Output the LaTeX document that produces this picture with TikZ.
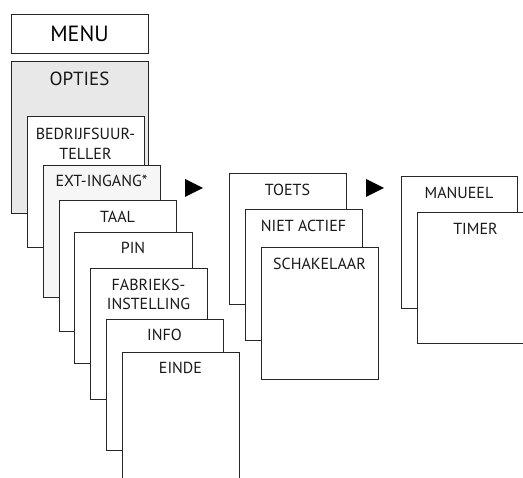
\documentclass[tikz,border=0pt]{standalone}
\usepackage{fontspec}
\setmainfont{PT Sans}
\begin{document}
\begin{tikzpicture}[x=1pt,y=-1pt,
  box/.style={draw=black!85, line width=0.9pt, fill=white, rectangle, anchor=north west,
    inner sep=0pt, outer sep=0pt, minimum width=117pt, minimum height=131pt},
  lbl/.style={font=\fontsize{16}{19.2}\selectfont, text=black!90, anchor=base, inner sep=0pt, align=center},
  tri/.style={fill=black}]
\useasboundingbox (0,0) rectangle (523,478);
\clip (0,0) rectangle (523,478);
% MENU
\node[box, minimum width=137pt, minimum height=39pt, font=\fontsize{22}{26}\selectfont] (menu) at (11,14) {MENU};
% OPTIES
\node[box, fill=gray!18, minimum width=137pt, minimum height=152pt] (opties) at (11,61) {};
\node[lbl, font=\fontsize{19}{22}\selectfont] (optiesT) at ([yshift=-25pt]opties.north) {OPTIES};
% stack of options
\node[box] (bedrijf) at (27,116) {};
\node[lbl] (bedrijfT) at ([yshift=-43.2pt]bedrijf.north) {BEDRIJFSUUR-\\TELLER};
\node[box, fill=gray!7, minimum height=132pt] (ext) at (43,165) {};
\node[lbl] (extT) at ([yshift=-22pt]ext.north) {EXT-INGANG*};
\node[box] (taal) at (59,200) {};
\node[lbl] (taalT) at ([yshift=-22.7pt]taal.north) {TAAL};
\node[box, minimum width=118pt] (pin) at (74,232) {};
\node[lbl] (pinT) at ([yshift=-22pt]pin.north) {PIN};
\node[box] (fabriek) at (90,268) {};
\node[lbl] (fabriekT) at ([yshift=-42pt]fabriek.north) {FABRIEKS-\\INSTELLING};
\node[box] (info) at (106,319) {};
\node[lbl] (infoT) at ([yshift=-22pt]info.north) {INFO};
\node[box] (einde) at (122,352) {};
\node[lbl] (eindeT) at ([yshift=-22pt]einde.north) {EINDE};
% arrow 1
\fill[tri] (185,179) -- (203,188) -- (185,197) -- cycle;
% middle stack
\node[box] (toets) at (229,173) {};
\node[lbl] (toetsT) at ([yshift=-22.7pt]toets.north) {TOETS};
\node[box] (niet) at (245,209) {};
\node[lbl] (nietT) at ([yshift=-22.7pt]niet.north) {NIET ACTIEF};
\node[box, minimum height=132pt] (schak) at (261,247) {};
\node[lbl] (schakT) at ([yshift=-22.7pt]schak.north) {SCHAKELAAR};
% arrow 2
\fill[tri] (366,179) -- (384,188) -- (366,197) -- cycle;
% right stack
\node[box, minimum width=116pt, minimum height=132pt] (manueel) at (401,176) {};
\node[lbl] (manueelT) at ([yshift=-22.7pt]manueel.north) {MANUEEL};
\node[box] (timer) at (417,212) {};
\node[lbl] (timerT) at ([yshift=-22.7pt]timer.north) {TIMER};
\end{tikzpicture}
\end{document}
